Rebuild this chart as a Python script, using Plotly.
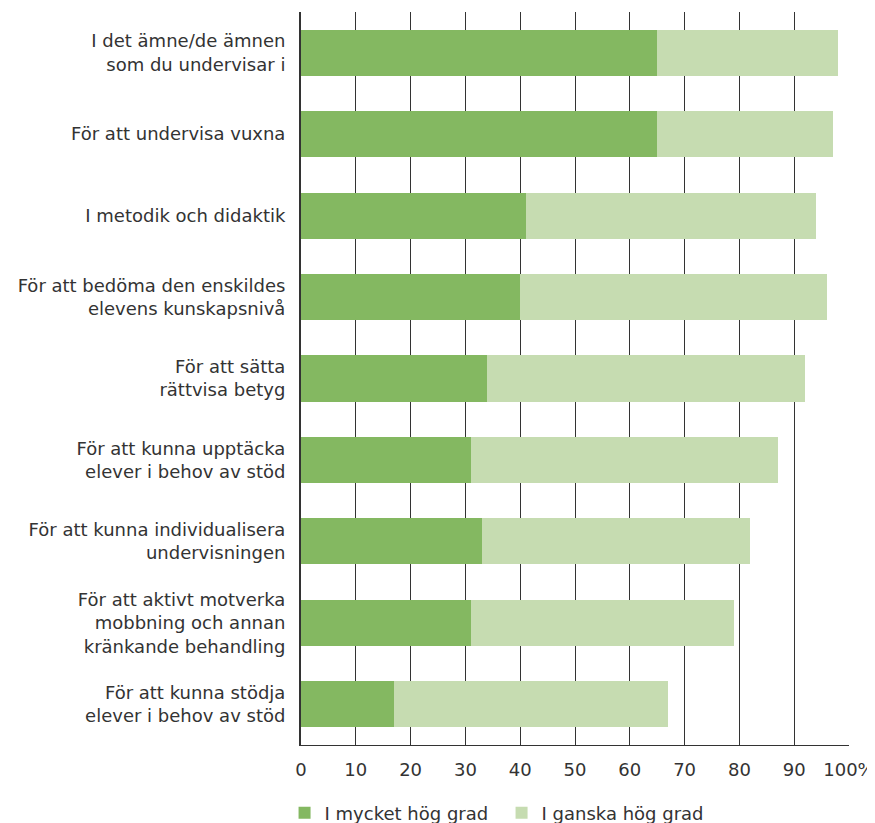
import plotly.graph_objects as go

categories = [
    "I det ämne/de ämnen<br>som du undervisar i",
    "För att undervisa vuxna",
    "I metodik och didaktik",
    "För att bedöma den enskildes<br>elevens kunskapsnivå",
    "För att sätta<br>rättvisa betyg",
    "För att kunna upptäcka<br>elever i behov av stöd",
    "För att kunna individualisera<br>undervisningen",
    "För att aktivt motverka<br>mobbning och annan<br>kränkande behandling",
    "För att kunna stödja<br>elever i behov av stöd",
]
mycket = [65, 65, 41, 40, 34, 31, 33, 31, 17]
total = [98, 97, 94, 96, 92, 87, 82, 79, 67]
ganska = [t - m for t, m in zip(total, mycket)]

tick_vals = [0, 10, 20, 30, 40, 50, 60, 70, 80, 90, 100]
tick_text = ["0", "10", "20", "30", "40", "50", "60", "70", "80", "90", "100%"]

font_family = "DejaVu Sans, Liberation Sans, Arial, sans-serif"

fig = go.Figure()
fig.add_trace(go.Bar(y=categories, x=mycket, orientation="h", name="I mycket hög grad",
                     marker=dict(color="#84b861", line=dict(width=0)), width=0.565))
fig.add_trace(go.Bar(y=categories, x=ganska, orientation="h", name="I ganska hög grad",
                     marker=dict(color="#c6dcb1", line=dict(width=0)), width=0.565))

fig.update_layout(
    barmode="stack",
    width=867, height=815,
    margin=dict(l=293, r=26, t=4, b=78, autoexpand=False),
    paper_bgcolor="white", plot_bgcolor="white",
    font=dict(family=font_family, size=18, color="#333333"),
    showlegend=True,
    legend=dict(orientation="h", traceorder="normal",
                x=-0.030, xanchor="left", yref="container", y=0.035, yanchor="top",
                entrywidth=172, entrywidthmode="pixels", font=dict(size=18),
                itemwidth=30),
)
fig.update_xaxes(range=[0, 100], tickvals=tick_vals, ticktext=tick_text,
                 showgrid=True, gridcolor="#333333", gridwidth=1,
                 showline=True, linecolor="#333333", linewidth=1,
                 zeroline=False, ticks="", ticklabelstandoff=8, automargin=False)
fig.update_yaxes(autorange="reversed", showgrid=False, showline=True,
                 linecolor="#333333", linewidth=2, ticks="", ticklabelstandoff=10,
                 categoryorder="array", categoryarray=categories, automargin=False)

fig.write_html("out.html")
